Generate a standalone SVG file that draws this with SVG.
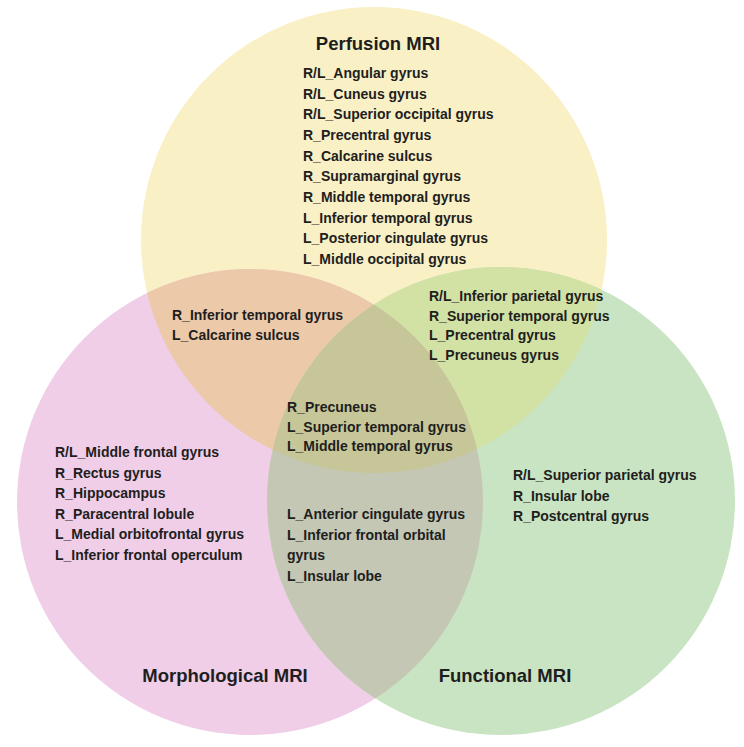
<svg xmlns="http://www.w3.org/2000/svg" width="744" height="747" viewBox="0 0 744 747">
<style>
.t{font-family:"Liberation Sans",Arial,sans-serif;font-weight:bold;fill:#1e1e1e}
.h{font-size:18.5px}
.i{font-size:14px}
</style>
<defs>
<clipPath id="cY"><circle cx="374" cy="240" r="233"/></clipPath>
<clipPath id="cP"><circle cx="250" cy="502" r="233"/></clipPath>
<clipPath id="cG"><circle cx="501" cy="501" r="234"/></clipPath>
</defs>
<rect width="744" height="747" fill="#ffffff"/>
<g id="regions">
<circle cx="374" cy="240" r="233" fill="#f9f0c6"/>
<circle cx="250" cy="502" r="233" fill="#f0cee7"/>
<circle cx="501" cy="501" r="234" fill="#c9e4c2"/>
<circle cx="250" cy="502" r="233" fill="#ecc9a9" clip-path="url(#cY)"/>
<circle cx="501" cy="501" r="234" fill="#d2e1a4" clip-path="url(#cY)"/>
<circle cx="501" cy="501" r="234" fill="#c4c7b4" clip-path="url(#cP)"/>
<g clip-path="url(#cY)"><circle cx="501" cy="501" r="234" fill="#c7c698" clip-path="url(#cP)"/></g>
</g>
<g id="perfusion">
<text class="t h" x="378" y="50" text-anchor="middle">Perfusion MRI</text>
<text class="t i" x="303" y="78">R/L_Angular gyrus</text>
<text class="t i" x="303" y="98.7">R/L_Cuneus gyrus</text>
<text class="t i" x="303" y="119.3">R/L_Superior occipital gyrus</text>
<text class="t i" x="303" y="140">R_Precentral gyrus</text>
<text class="t i" x="303" y="160.7">R_Calcarine sulcus</text>
<text class="t i" x="303" y="181.3">R_Supramarginal gyrus</text>
<text class="t i" x="303" y="202">R_Middle temporal gyrus</text>
<text class="t i" x="303" y="222.7">L_Inferior temporal gyrus</text>
<text class="t i" x="303" y="243.3">L_Posterior cingulate gyrus</text>
<text class="t i" x="303" y="264">L_Middle occipital gyrus</text>
</g>
<g id="perfusion-morphological">
<text class="t i" x="172" y="320">R_Inferior temporal gyrus</text>
<text class="t i" x="172" y="339.5">L_Calcarine sulcus</text>
</g>
<g id="perfusion-functional">
<text class="t i" x="429" y="301">R/L_Inferior parietal gyrus</text>
<text class="t i" x="429" y="320.5">R_Superior temporal gyrus</text>
<text class="t i" x="429" y="340">L_Precentral gyrus</text>
<text class="t i" x="429" y="359.5">L_Precuneus gyrus</text>
</g>
<g id="all-three">
<text class="t i" x="287" y="412">R_Precuneus</text>
<text class="t i" x="287" y="431.5">L_Superior temporal gyrus</text>
<text class="t i" x="287" y="451">L_Middle temporal gyrus</text>
</g>
<g id="morphological">
<text class="t h" x="225" y="682" text-anchor="middle">Morphological MRI</text>
<text class="t i" x="55" y="457">R/L_Middle frontal gyrus</text>
<text class="t i" x="55" y="477.6">R_Rectus gyrus</text>
<text class="t i" x="55" y="498.2">R_Hippocampus</text>
<text class="t i" x="55" y="518.8">R_Paracentral lobule</text>
<text class="t i" x="55" y="539.4">L_Medial orbitofrontal gyrus</text>
<text class="t i" x="55" y="560">L_Inferior frontal operculum</text>
</g>
<g id="morphological-functional">
<text class="t i" x="287" y="519">L_Anterior cingulate gyrus</text>
<text class="t i" x="287" y="539.5">L_Inferior frontal orbital</text>
<text class="t i" x="287" y="560">gyrus</text>
<text class="t i" x="287" y="580.5">L_Insular lobe</text>
</g>
<g id="functional">
<text class="t h" x="505" y="682" text-anchor="middle">Functional MRI</text>
<text class="t i" x="513" y="480">R/L_Superior parietal gyrus</text>
<text class="t i" x="513" y="500.5">R_Insular lobe</text>
<text class="t i" x="513" y="521">R_Postcentral gyrus</text>
</g>
<g id="connectors"/>
</svg>
